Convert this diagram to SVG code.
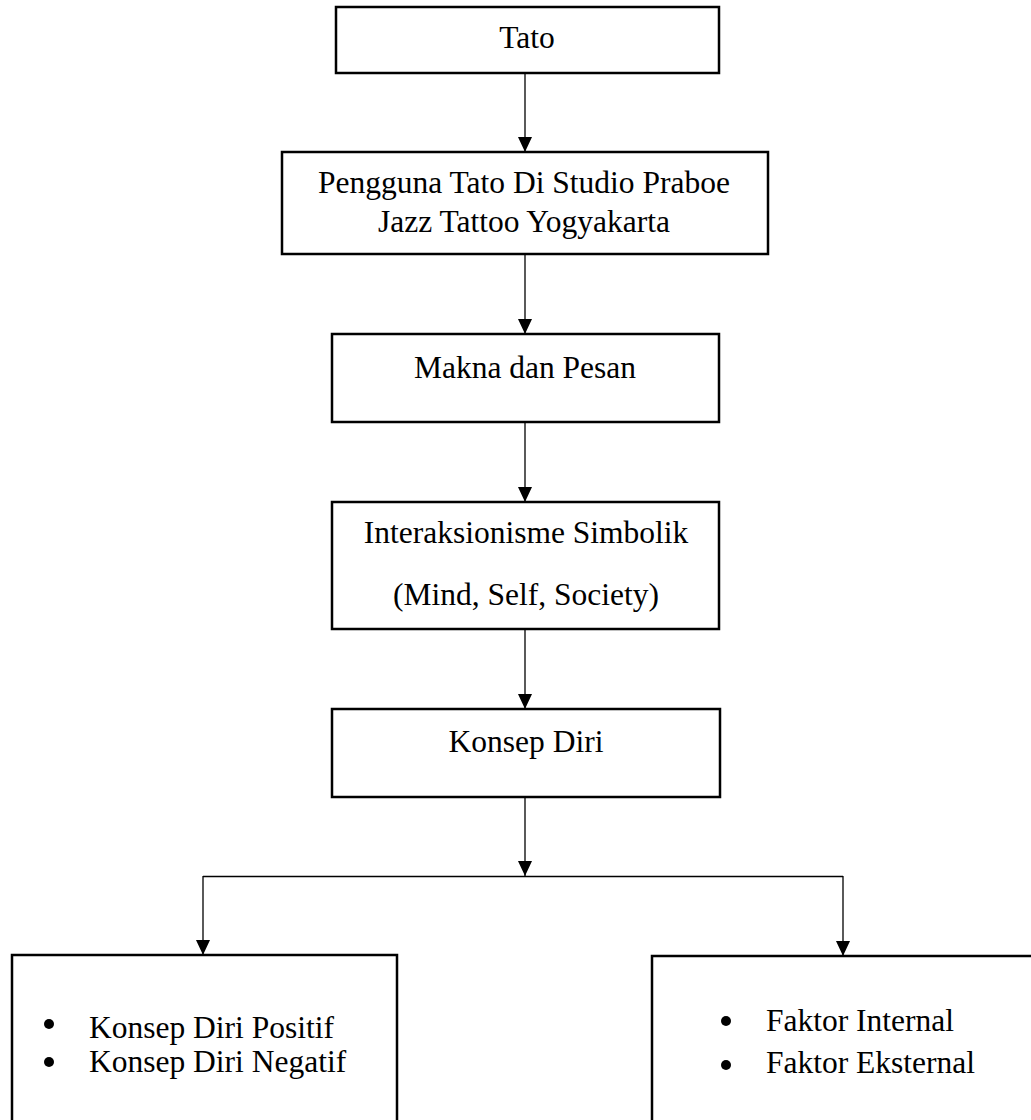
<svg xmlns="http://www.w3.org/2000/svg" width="1031" height="1120" viewBox="0 0 1031 1120">
<style>
.box{fill:#fff;stroke:#000;stroke-width:2.5}
.t{font-family:"Liberation Serif","Times New Roman",serif;font-size:31.5px;fill:#000}
.c{text-anchor:middle}
.ln{stroke:#000;stroke-width:1.3;fill:none}
.b{fill:#000}
</style>
<defs>
<marker id="ah" viewBox="0 0 15 14" refX="15" refY="7" markerWidth="15" markerHeight="14" markerUnits="userSpaceOnUse" orient="auto">
<path d="M0,0 L15,7 L0,14 Z" fill="#000"/>
</marker>
</defs>
<rect width="1031" height="1120" fill="#fff"/>
<g id="connectors">
<line class="ln" x1="525" y1="73" x2="525" y2="152" marker-end="url(#ah)"/>
<line class="ln" x1="525" y1="254" x2="525" y2="334" marker-end="url(#ah)"/>
<line class="ln" x1="525" y1="422" x2="525" y2="502" marker-end="url(#ah)"/>
<line class="ln" x1="525" y1="629" x2="525" y2="709" marker-end="url(#ah)"/>
<line class="ln" x1="525" y1="797" x2="525" y2="876" marker-end="url(#ah)"/>
<line class="ln" x1="203" y1="876.5" x2="843" y2="876.5"/>
<line class="ln" x1="203" y1="876" x2="203" y2="955" marker-end="url(#ah)"/>
<line class="ln" x1="843" y1="876" x2="843" y2="956" marker-end="url(#ah)"/>
</g>
<g id="n1">
<rect class="box" x="336" y="7" width="383" height="66"/>
<text class="t c" x="527" y="48">Tato</text>
</g>
<g id="n2">
<rect class="box" x="282" y="152" width="486" height="102"/>
<text class="t c" x="524" y="193">Pengguna Tato Di Studio Praboe</text>
<text class="t c" x="524" y="232">Jazz Tattoo Yogyakarta</text>
</g>
<g id="n3">
<rect class="box" x="332" y="334" width="387" height="88"/>
<text class="t c" x="525" y="378">Makna dan Pesan</text>
</g>
<g id="n4">
<rect class="box" x="332" y="502" width="387" height="127"/>
<text class="t c" x="526" y="543">Interaksionisme Simbolik</text>
<text class="t c" x="526" y="605">(Mind, Self, Society)</text>
</g>
<g id="n5">
<rect class="box" x="332" y="709" width="388" height="88"/>
<text class="t c" x="526" y="752">Konsep Diri</text>
</g>
<g id="n6">
<rect class="box" x="12" y="955" width="385" height="180"/>
<circle class="b" cx="49" cy="1024" r="5"/>
<text class="t" x="89" y="1038">Konsep Diri Positif</text>
<circle class="b" cx="49" cy="1062" r="5"/>
<text class="t" x="89" y="1072">Konsep Diri Negatif</text>
</g>
<g id="n7">
<rect class="box" x="652" y="956" width="385" height="180"/>
<circle class="b" cx="726" cy="1021" r="5"/>
<text class="t" x="766" y="1031">Faktor Internal</text>
<circle class="b" cx="726" cy="1065" r="5"/>
<text class="t" x="766" y="1073">Faktor Eksternal</text>
</g>
</svg>
